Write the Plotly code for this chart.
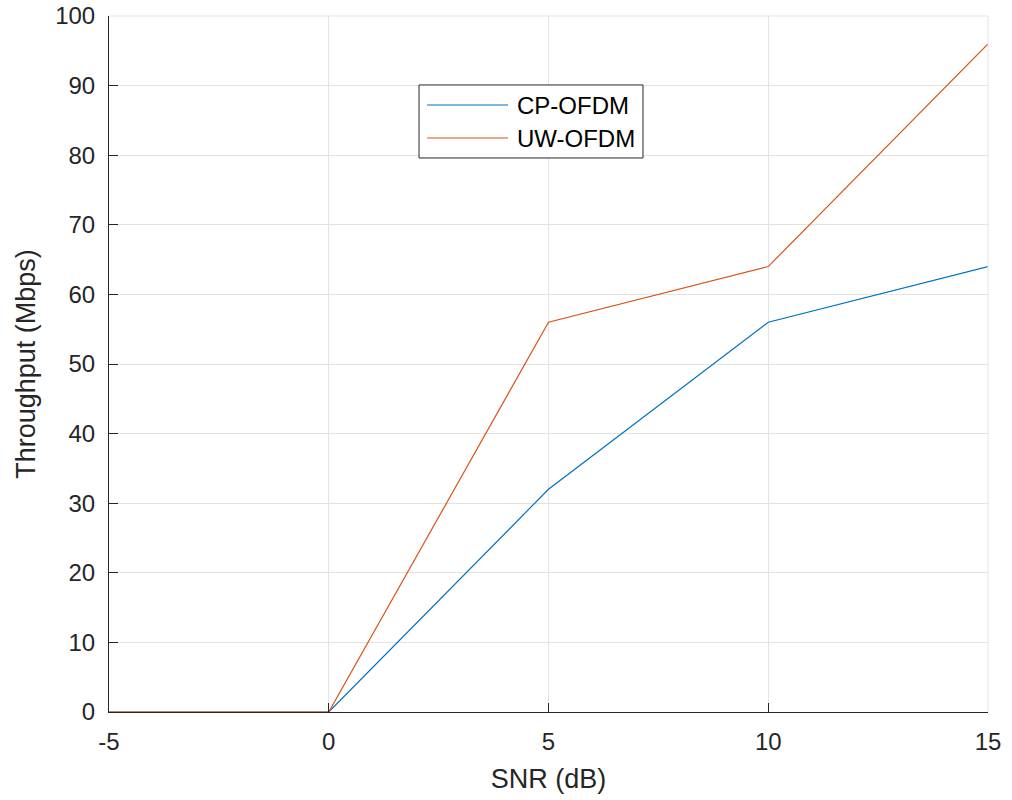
import plotly.graph_objects as go

snr = [-5, 0, 5, 10, 15]
cp_ofdm = [0, 0, 32, 56, 64]
uw_ofdm = [0, 0, 56, 64, 96]
x_ticks = [-5, 0, 5, 10, 15]
x_ticklabels = ["-5", "0", "5", "10", "15"]
y_ticks = list(range(0, 101, 10))

series = [("CP-OFDM", cp_ofdm, "#0072BD"), ("UW-OFDM", uw_ofdm, "#D95319")]

FONT = "Liberation Sans, Arial, Helvetica, sans-serif"
TXT = "#262626"

fig = go.Figure()
for name, vals, col in series:
    fig.add_trace(go.Scatter(x=snr, y=vals, mode="lines", name=name,
                             line=dict(color=col, width=1.2), showlegend=False))

axis_common = dict(
    showgrid=True, gridcolor="#E3E3E3", gridwidth=1,
    zeroline=False, showline=True, linecolor=TXT, linewidth=1,
    ticks="inside", ticklen=9, tickcolor=TXT, tickwidth=1,
    tickfont=dict(family=FONT, size=24, color=TXT),
    mirror=False, automargin=False,
)

fig.update_layout(
    width=1012, height=800,
    margin=dict(l=109, r=24, t=16, b=88),
    paper_bgcolor="white", plot_bgcolor="white",
    font=dict(family=FONT, color=TXT),
    xaxis=dict(range=[-5, 15], tickvals=x_ticks, ticktext=x_ticklabels,
               ticklabelstandoff=8,
               title=dict(text="SNR (dB)", font=dict(size=27, color=TXT), standoff=15),
               **axis_common),
    yaxis=dict(range=[0, 100], tickvals=y_ticks,
               ticklabelstandoff=8,
               title=dict(text="Throughput (Mbps)", font=dict(size=27, color=TXT), standoff=11),
               **axis_common),
    showlegend=False,
)
# top/right grid edges
fig.add_shape(type="line", xref="paper", yref="paper", x0=0, x1=1, y0=1, y1=1,
              line=dict(color="#E3E3E3", width=1))
fig.add_shape(type="line", xref="paper", yref="paper", x0=1, x1=1, y0=0, y1=1,
              line=dict(color="#E3E3E3", width=1))

# legend box (MATLAB style)
fig.add_shape(type="rect", xref="paper", yref="paper", x0=0.3527, x1=0.6075,
              y0=0.796, y1=0.9009, line=dict(color=TXT, width=1), fillcolor="white",
              layer="above")
leg_y = [0.8721, 0.8247]
for (name, vals, col), ly in zip(series, leg_y):
    fig.add_shape(type="line", xref="paper", yref="paper", x0=0.3618, x1=0.4539,
                  y0=ly, y1=ly, line=dict(color=col, width=1.2), layer="above")
    fig.add_annotation(xref="paper", yref="paper", x=0.4619, y=ly, text=name,
                       showarrow=False, xanchor="left", yanchor="middle",
                       font=dict(family=FONT, size=24, color="black"))

fig.write_html("out.html")
